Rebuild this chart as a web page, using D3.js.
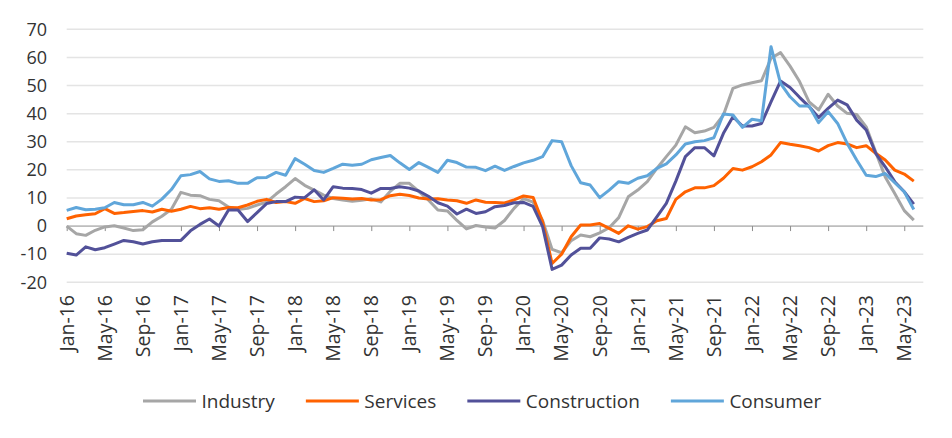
<!DOCTYPE html>
<html><head><meta charset="utf-8">
<script src="https://cdn.jsdelivr.net/npm/d3@7"></script>
<style>
html,body{margin:0;padding:0;background:#fff;}
svg{display:block;font-family:"Open Sans","DejaVu Sans",sans-serif;}
</style></head>
<body><svg id="c" width="952" height="438"></svg>
<script>
const startYear = 2016, startMonth = 0, nMonths = 90;
const seriesNames = ["Industry","Services","Construction","Consumer"];
const seriesColors = ["#a6a6a6","#ff6200","#525199","#60a6da"];
const yTicks = [-20,-10,0,10,20,30,40,50,60,70];
const industry = [0,-2.7,-3.3,-1.5,-0.3,0.1,-0.7,-1.6,-1.3,1.5,3.5,6,12,11,10.8,9.5,9,6.8,5.9,6.3,7.5,8.5,11.4,14,16.9,14.5,12.8,11,9.8,9.3,8.8,9.2,9.7,8.6,12.4,15.2,15.2,12.3,9.3,5.7,5.4,2,-1,0.2,-0.3,-0.7,2,6.3,9.8,8.5,2,-8.3,-9.5,-5.2,-3.2,-3.8,-2.4,-0.6,3,10.4,12.8,15.8,20.5,24.7,28.8,35.3,33.2,33.8,35.1,39.5,49,50.2,51,51.7,59.7,61.7,56.9,51.4,44.2,41.3,46.9,42.7,40.1,39.7,35.3,26.3,17.5,11.6,5.5,2.1];
const services = [2.6,3.6,4,4.4,6.2,4.5,4.8,5.2,5.5,5,6,5.3,6,7,6.2,6.5,6,6.6,6.5,7.5,8.8,9.5,8.4,8.7,8.1,9.8,8.7,9,10.1,9.9,9.6,9.8,9.3,9.4,10.8,11.3,10.9,10,9.6,9.7,9.3,9,8.1,9.3,8.5,8.4,8.2,9.3,10.7,10.2,1.5,-13.3,-10,-3.8,0.4,0.4,0.9,-0.8,-2.6,0.1,-1.1,-0.2,1.9,2.7,9.5,12.2,13.6,13.6,14.4,17,20.5,19.9,21.1,22.9,25.3,29.7,29.1,28.6,27.9,26.7,28.6,29.7,29.2,27.9,28.6,25.9,23.5,19.9,18.5,16];
const construction = [-9.7,-10.3,-7.4,-8.4,-7.7,-6.4,-5.1,-5.6,-6.4,-5.6,-5.1,-5.1,-5.1,-1.7,0.6,2.5,0,5.7,5.7,1.6,4.8,8,8.7,8.7,10.3,10.1,12.9,9.3,14,13.5,13.4,13,11.7,13.4,13.4,14,13.5,12.5,10.6,8.3,7.1,4.3,6,4.5,5.1,6.9,7.3,8.3,8.4,7,-0.2,-15.4,-13.9,-10.3,-7.9,-7.9,-4.2,-4.6,-5.6,-4,-2.6,-1.4,3.3,8.1,16,24.7,27.9,27.9,25,33,38.9,35.6,35.6,36.5,44.2,51.6,49.3,45.8,42.5,38.6,41.9,44.8,43.1,37.7,34.2,25.9,21.1,15.8,12.2,7.8];
const consumer = [5.6,6.6,5.8,6,6.5,8.4,7.6,7.6,8.4,7.1,9.6,13,17.9,18.3,19.4,16.8,15.9,16.1,15.2,15.2,17.2,17.3,19.1,18.1,24,22,19.8,19.1,20.5,22,21.6,22,23.6,24.4,25.1,22.5,20.1,22.6,20.9,19.1,23.4,22.6,21,20.9,19.7,21.3,19.8,21.2,22.5,23.4,24.7,30.4,30,21.5,15.4,14.6,10.1,12.8,15.8,15.2,17,17.9,20.5,22.1,25.3,29.2,30,30.4,31.4,39.9,39.5,35.1,38,37.5,63.8,50.8,46,42.7,42.7,36.8,40.7,36.5,29.4,23.5,18.1,17.6,18.7,15.4,12.2,5.9];
const seriesValues = [industry, services, construction, consumer];

const months = d3.range(nMonths).map(i => new Date(startYear, startMonth + i, 1));
const fmt = d3.timeFormat("%b-%y");

const svg = d3.select("#c");
const x = d3.scaleLinear().domain([0, nMonths]).range([66.7, 923.3]);
const y = d3.scaleLinear().domain([-20, 70]).range([282.3, 29.3]);

// gridlines
svg.append("g").selectAll("line").data(yTicks.filter(t => t !== 0)).join("line")
  .attr("x1", x(0)).attr("x2", x(nMonths))
  .attr("y1", d => y(d)).attr("y2", d => y(d))
  .attr("stroke", "#e4e4e4").attr("stroke-width", 1.5);

// y labels
svg.append("g").selectAll("text").data(yTicks).join("text")
  .attr("x", 47).attr("y", d => y(d)).attr("dy", "0.35em")
  .attr("text-anchor", "end").attr("font-size", 18).attr("fill", "#333")
  .text(d => d);

// zero axis with ticks
const tickIdx = d3.range(0, nMonths, 4);
const axis = d3.axisBottom(x).tickValues(tickIdx).tickSize(5).tickFormat("");
const ag = svg.append("g").attr("transform", `translate(0,${y(0)})`).call(axis);
ag.select(".domain").attr("stroke", "#8c8c8c").attr("d", `M${x(0)},0H${x(nMonths)}`);
ag.selectAll(".tick line").attr("stroke", "#8c8c8c");

// x labels rotated
svg.append("g").selectAll("text").data(tickIdx).join("text")
  .attr("transform", d => `translate(${x(d)},295) rotate(-90)`)
  .attr("dy", "0.35em").attr("text-anchor", "end")
  .attr("font-size", 19.5).attr("fill", "#333")
  .text(d => fmt(months[d]));

// lines
const line = d3.line().x((d, i) => x(i)).y(d => y(d));
seriesValues.forEach((vals, k) => {
  svg.append("path").datum(vals)
    .attr("fill", "none").attr("stroke", seriesColors[k])
    .attr("stroke-width", 3).attr("stroke-linejoin", "round")
    .attr("d", line);
});

// legend
const lg = svg.append("g");
let cx = 143;
seriesNames.forEach((name, k) => {
  lg.append("line").attr("x1", cx).attr("x2", cx + 53).attr("y1", 401).attr("y2", 401)
    .attr("stroke", seriesColors[k]).attr("stroke-width", 3);
  const t = lg.append("text").attr("x", cx + 58.5).attr("y", 401).attr("dy", "0.35em")
    .attr("font-size", 19).attr("fill", "#333").text(name);
  cx += 58.5 + t.node().getComputedTextLength() + 31;
});
</script></body></html>
